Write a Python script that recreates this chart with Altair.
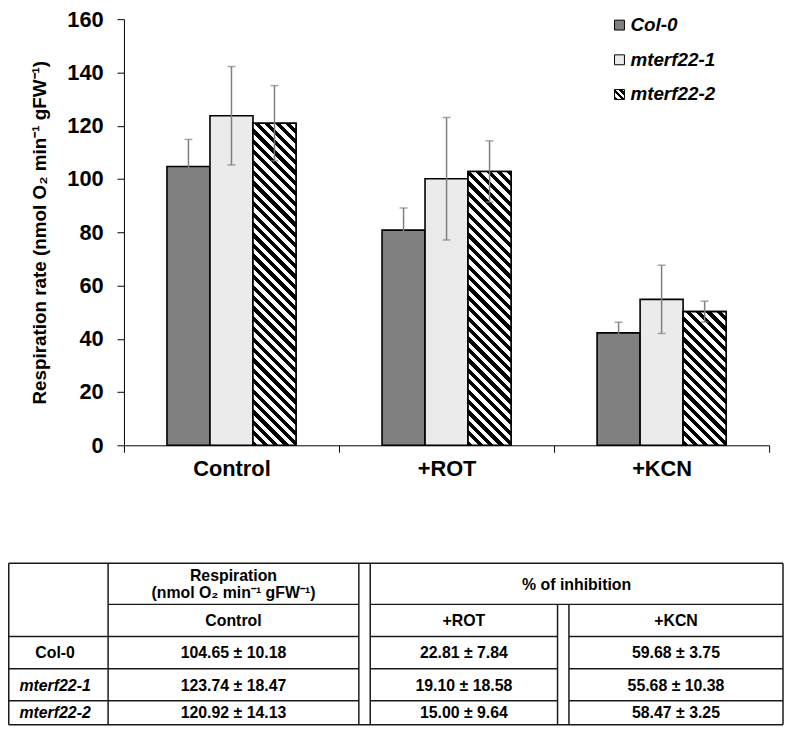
import altair as alt
import pandas as pd

# ---------------- data ----------------
categories = ["Control", "+ROT", "+KCN"]
genotypes = ["Col-0", "mterf22-1", "mterf22-2"]
col0_values = [104.65, 80.8, 42.2]
col0_errors = [10.18, 8.3, 4.0]
m1_values = [123.74, 100.1, 54.8]
m1_errors = [18.47, 23.0, 12.8]
m2_values = [120.92, 102.8, 50.2]
m2_errors = [14.13, 11.5, 3.9]
y_ticks = [0, 20, 40, 60, 80, 100, 120, 140, 160]

y_title = "Respiration rate (nmol O\u2082 min\u207b\u00b9 gFW\u207b\u00b9)"
table_head_resp = ["Respiration", "(nmol O\u2082 min\u207b\u00b9 gFW\u207b\u00b9)"]
table_head_inhib = "% of inhibition"
table_control = ["104.65 \u00b1 10.18", "123.74 \u00b1 18.47", "120.92 \u00b1 14.13"]
table_rot = ["22.81 \u00b1 7.84", "19.10 \u00b1 18.58", "15.00 \u00b1 9.64"]
table_kcn = ["59.68 \u00b1 3.75", "55.68 \u00b1 10.38", "58.47 \u00b1 3.25"]

# ---------------- layout / style ----------------
FONT = "Liberation Sans"
PLOT_W = 651
PLOT_H = 430
Y_MAX = 160
OFF_PAD = 1.0
BAR_COLORS = ["#808080", "#ebebeb", "#808080"]
ERR_COLOR = "#7f7f7f"
STRIPE_PERIOD = 10.5

rows = []
for vals, errs, g in [(col0_values, col0_errors, genotypes[0]),
                      (m1_values, m1_errors, genotypes[1]),
                      (m2_values, m2_errors, genotypes[2])]:
    for c, v, e in zip(categories, vals, errs):
        rows.append({"category": c, "genotype": g, "value": v, "lo": v - e, "hi": v + e})
df = pd.DataFrame(rows)


def stripe_gradient(w, h, period=STRIPE_PERIOD):
    span = w + h
    k = span / (w * w + h * h)
    p = period / span
    stops = []
    s = 0.0
    while s < 1.0:
        a = min(s + p / 2, 1.0)
        b = min(s + p, 1.0)
        stops += [{"offset": s, "color": "#000000"}, {"offset": a, "color": "#000000"},
                  {"offset": a, "color": "#ffffff"}, {"offset": b, "color": "#ffffff"}]
        s += p
    return {"gradient": "linear", "x1": 0, "y1": 1, "x2": k * w, "y2": 1 - k * h,
            "stops": stops}


x_enc = alt.X("category:N", sort=categories,
              scale=alt.Scale(domain=categories, paddingInner=0, paddingOuter=0),
              axis=alt.Axis(title=None, labelAngle=0, labelFont=FONT, labelFontSize=22,
                            labelFontWeight="bold", labelColor="black", tickBand="extent",
                            tickSize=7, tickColor="black", domainColor="black",
                            labelPadding=6))
xo_enc = alt.XOffset("genotype:N", sort=genotypes,
                     scale=alt.Scale(domain=genotypes, paddingInner=0, paddingOuter=OFF_PAD))
y_enc = alt.Y("value:Q", scale=alt.Scale(domain=[0, Y_MAX], nice=False),
              axis=alt.Axis(values=y_ticks, title=y_title, titleFont=FONT, titleFontSize=19,
                            titleFontWeight="bold", titleColor="black", titlePadding=17,
                            labelFont=FONT, labelFontSize=22, labelFontWeight="bold",
                            labelColor="black", labelPadding=14, tickSize=7,
                            tickColor="black", domainColor="black", grid=False))

base = alt.Chart(df)
bars = base.mark_bar(stroke="black", strokeWidth=1.6).encode(
    x=x_enc, xOffset=xo_enc, y=y_enc,
    fill=alt.Fill("genotype:N", scale=alt.Scale(domain=genotypes, range=BAR_COLORS), legend=None),
)

band = PLOT_W / len(categories)
step = band / (len(genotypes) + 2 * OFF_PAD)
stripe_layers = []
for c, v in zip(categories, m2_values):
    h = v * PLOT_H / Y_MAX
    stripe_layers.append(
        base.transform_filter((alt.datum.genotype == genotypes[2]) & (alt.datum.category == c))
        .mark_bar(fill=stripe_gradient(step, h), stroke="black", strokeWidth=1.6)
        .encode(x=x_enc, xOffset=xo_enc, y=y_enc)
    )

err_rule = base.mark_rule(color=ERR_COLOR, strokeWidth=1.5).encode(
    x=x_enc, xOffset=xo_enc, y=alt.Y("lo:Q"), y2="hi:Q")
cap_lo = base.mark_tick(color=ERR_COLOR, thickness=1.5, size=8).encode(
    x=x_enc, xOffset=xo_enc, y=alt.Y("lo:Q"))
cap_hi = base.mark_tick(color=ERR_COLOR, thickness=1.5, size=8).encode(
    x=x_enc, xOffset=xo_enc, y=alt.Y("hi:Q"))

# legend (manual, so the patterns can be shown)
LEG_X = 500
LEG_Y0 = 6
LEG_DY = 35
legend_fills = [BAR_COLORS[0], BAR_COLORS[1], stripe_gradient(10, 10, 7)]
legend_layers = []
for i, g in enumerate(genotypes):
    ldf = pd.DataFrame({"label": [g]})
    legend_layers.append(
        alt.Chart(ldf).mark_square(size=100, fill=legend_fills[i], stroke="black",
                                   strokeWidth=1, opacity=1)
        .encode(x=alt.value(LEG_X), y=alt.value(LEG_Y0 + i * LEG_DY)))
    legend_layers.append(
        alt.Chart(ldf).mark_text(align="left", baseline="middle", font=FONT, fontSize=19,
                                 fontWeight="bold", fontStyle="italic", color="black")
        .encode(x=alt.value(LEG_X + 11), y=alt.value(LEG_Y0 + i * LEG_DY), text="label:N"))

bar_chart = alt.layer(bars, *stripe_layers, err_rule, cap_lo, cap_hi, *legend_layers).properties(
    width=PLOT_W, height=PLOT_H)

# ---------------- table ----------------
TL, TR = 8.75, 790
C0, C1, C1B, C2, C2B = 109, 362, 373.5, 562.5, 574
R0, R1, R2, R3, R4, R5 = 564.5, 606, 638.3, 671, 703.3, 727.5
X_COLS = [55.5, 235.5, 468, 682]
X_INHIB = (C1B + TR) / 2
Y_HEAD1 = [577, 595]
Y_HEAD_INHIB = 586
Y_HEAD2 = 623
Y_ROWS = [655, 688, 716]

segs = [(TL, R0, TR, R0), (TL, R5, TR, R5), (C0, R1, C1, R1), (C1B, R1, TR, R1)]
for r in [R2, R3, R4]:
    segs += [(TL, r, C1, r), (C1B, r, C2, r), (C2B, r, TR, r)]
for xv in [TL, C0, C1, C1B, TR]:
    segs.append((xv, R0, xv, R5))
for xv in [C2, C2B]:
    segs.append((xv, R1, xv, R5))
seg_df = pd.DataFrame(segs, columns=["x", "y", "x2", "y2"])

texts = [
    (X_COLS[1], Y_HEAD1[0], table_head_resp[0], False),
    (X_COLS[1], Y_HEAD1[1], table_head_resp[1], False),
    (X_INHIB, Y_HEAD_INHIB, table_head_inhib, False),
]
for j, c in enumerate(categories):
    texts.append((X_COLS[j + 1], Y_HEAD2, c, False))
for i, g in enumerate(genotypes):
    texts.append((X_COLS[0], Y_ROWS[i], g, i > 0))
    texts.append((X_COLS[1], Y_ROWS[i], table_control[i], False))
    texts.append((X_COLS[2], Y_ROWS[i], table_rot[i], False))
    texts.append((X_COLS[3], Y_ROWS[i], table_kcn[i], False))
text_df = pd.DataFrame(texts, columns=["x", "y", "t", "italic"])

tx = alt.X("x:Q", scale=alt.Scale(domain=[125, 125 + PLOT_W], nice=False, zero=False), axis=None)
ty = alt.Y("y:Q", scale=alt.Scale(domain=[R0, R5], nice=False, zero=False, reverse=True), axis=None)
TABLE_H = R5 - R0

lines = alt.Chart(seg_df).mark_rule(color="#1a1a1a", strokeWidth=1.5).encode(
    x=tx, y=ty, x2="x2:Q", y2="y2:Q")
txt_up = alt.Chart(text_df).transform_filter(alt.datum.italic == False).mark_text(
    font=FONT, fontSize=16, fontWeight="bold", color="black", baseline="middle").encode(
    x=tx, y=ty, text="t:N")
txt_it = alt.Chart(text_df).transform_filter(alt.datum.italic == True).mark_text(
    font=FONT, fontSize=16, fontWeight="bold", fontStyle="italic", color="black",
    baseline="middle").encode(x=tx, y=ty, text="t:N")
table_chart = alt.layer(lines, txt_up, txt_it).properties(width=PLOT_W, height=TABLE_H)

chart = alt.vconcat(bar_chart, table_chart, spacing=84).properties(
    padding={"left": 0, "top": -3, "right": 0, "bottom": 0}
).configure_view(stroke=None).configure_axis(grid=False)

chart.save("out.html", embed_options={"renderer": "svg", "actions": False})
